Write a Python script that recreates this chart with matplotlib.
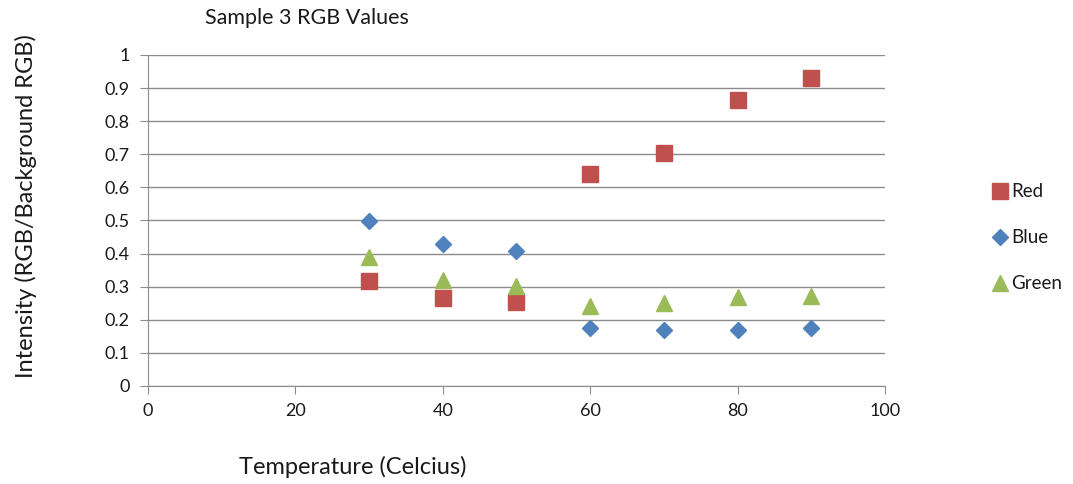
import matplotlib
matplotlib.use("Agg")
import matplotlib.pyplot as plt

plt.rcParams['font.family'] = ['Lato', 'DejaVu Sans']

temps = [30, 40, 50, 60, 70, 80, 90]
red = [0.316, 0.265, 0.253, 0.641, 0.703, 0.864, 0.930]
blue = [0.497, 0.430, 0.409, 0.174, 0.170, 0.170, 0.175]
green = [0.390, 0.319, 0.303, 0.242, 0.252, 0.269, 0.273]

fig = plt.figure(figsize=(10.73, 4.84), dpi=100)
ax = fig.add_axes([0.1379, 0.2025, 0.6869, 0.6839])

ax.plot(temps, red, linestyle='none', marker='s', markersize=12,
        color='#C0504D', label='Red')
ax.plot(temps, blue, linestyle='none', marker='D', markersize=8.5,
        color='#4F81BD', label='Blue')
ax.plot(temps, green, linestyle='none', marker='^', markersize=12,
        color='#9BBB59', label='Green')

ax.set_xlim(0, 100)
ax.set_ylim(0, 1)
ax.set_xticks([0, 20, 40, 60, 80, 100])
ax.set_yticks([i / 10 for i in range(11)])
ax.set_yticklabels(['0', '0.1', '0.2', '0.3', '0.4', '0.5', '0.6', '0.7',
                    '0.8', '0.9', '1'])
ax.yaxis.grid(True, color='#8c8c8c', linewidth=1)
ax.set_axisbelow(True)
for side in ['top', 'right']:
    ax.spines[side].set_visible(False)
for side in ['left', 'bottom']:
    ax.spines[side].set_color('#8c8c8c')
ax.tick_params(axis='both', colors='#8c8c8c', labelcolor='#1a1a1a',
               labelsize=13, length=6)
ax.tick_params(axis='x', pad=6)
ax.tick_params(axis='y', pad=7)

fig.text(0.191, 0.962, 'Sample 3 RGB Values', fontsize=15.5, va='center',
         color='#1a1a1a')
fig.text(0.329, 0.036, 'Temperature (Celcius)', fontsize=17, ha='center',
         va='center', color='#1a1a1a')
fig.text(0.024, 0.575, 'Intensity (RGB/Background RGB)', fontsize=17,
         rotation=90, ha='center', va='center', color='#1a1a1a')

ax.legend(loc='center left', bbox_to_anchor=(1.119, 0.448), frameon=False,
          fontsize=13.5, handletextpad=0.05, labelspacing=1.55,
          handlelength=1.1, markerscale=1.0, labelcolor='#1a1a1a')

fig.savefig('out.png', dpi=100)
